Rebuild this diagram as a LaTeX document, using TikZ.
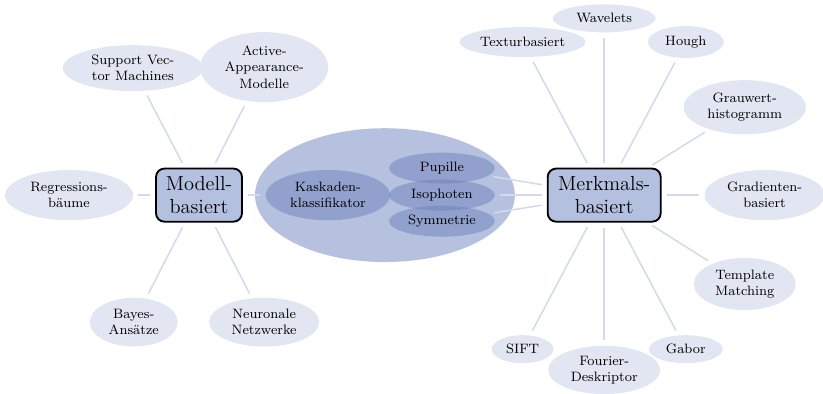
\documentclass[tikz,border=0pt]{standalone}
\usepackage{xcolor}
\usepackage{tikz}
\usetikzlibrary{shapes.geometric, positioning}

\definecolor{leaffill}{HTML}{E2E6F2}
\definecolor{linkcol}{HTML}{D4DAEC}
\definecolor{groupfill}{HTML}{B5C1DF}
\definecolor{subfill}{HTML}{6E81BA}
\definecolor{mainfill}{HTML}{B4C0E0}

\begin{document}
\begin{tikzpicture}[
        main/.style={rectangle, draw=black, line width=1.1pt, fill=mainfill, rounded corners=5pt, align=center, font=\large, inner sep=0pt},
        leaf/.style={ellipse, fill=leaffill, align=center, font=\footnotesize, inner sep=0pt},
        group/.style={ellipse, fill=groupfill, inner sep=0pt},
        sub/.style={ellipse, fill=subfill, fill opacity=0.5, text opacity=1, align=center, font=\footnotesize, inner sep=0pt},
        link/.style={draw=linkcol, line width=0.9pt, shorten <=3pt, shorten >=3pt}
    ]
        \useasboundingbox (-4.12,-4.10) rectangle (12.92,4.04);

        % Nodes
        \node[main, minimum width=1.78cm, minimum height=1.10cm] (modell) at (0,0) {Modell-\\basiert};
        \node[main, minimum width=2.34cm, minimum height=1.10cm] (merkmal) at (8.39,0) {Merkmals-\\basiert};

        \node[group, minimum width=5.38cm, minimum height=2.77cm] (kombi) at (3.85,0) {};
        \node[sub, minimum width=2.57cm, minimum height=1.04cm] (kaskade) at (2.67,0) {Kaskaden-\\klassifikator};
        \node[sub, minimum width=2.19cm, minimum height=0.64cm] (pupille) at (5.03,0.56) {Pupille};
        \node[sub, minimum width=2.19cm, minimum height=0.64cm] (isophoten) at (5.03,0) {Isophoten};
        \node[sub, minimum width=2.19cm, minimum height=0.64cm] (symmetrie) at (5.03,-0.54) {Symmetrie};

        % model based
        \node[leaf, minimum width=2.90cm, minimum height=0.95cm] (svm) at (-1.37,2.63) {Support Vec-\\tor Machines};
        \node[leaf, minimum width=2.65cm, minimum height=1.45cm] (aam) at (1.35,2.65) {Active-\\Appearance-\\Modelle};
        \node[leaf, minimum width=2.65cm, minimum height=1.04cm] (regression) at (-2.69,0) {Regressions-\\bäume};
        \node[leaf, minimum width=1.82cm, minimum height=1.01cm] (bayes) at (-1.35,-2.63) {Bayes-\\Ansätze};
        \node[leaf, minimum width=2.28cm, minimum height=1.01cm] (neuronal) at (1.35,-2.63) {Neuronale\\Netzwerke};

        % feature based
        \node[leaf, minimum width=2.13cm, minimum height=0.58cm] (wavelets) at (8.39,3.66) {Wavelets};
        \node[leaf, minimum width=2.61cm, minimum height=0.62cm] (textur) at (6.70,3.17) {Texturbasiert};
        \node[leaf, minimum width=1.57cm, minimum height=0.66cm] (hough) at (10.08,3.17) {Hough};
        \node[leaf, minimum width=2.53cm, minimum height=1.12cm] (grauwert) at (11.30,1.82) {Grauwert-\\histogramm};
        \node[leaf, minimum width=2.48cm, minimum height=1.04cm] (gradient) at (11.71,0) {Gradienten-\\basiert};
        \node[leaf, minimum width=2.11cm, minimum height=1.08cm] (template) at (11.30,-1.84) {Template\\Matching};
        \node[leaf, minimum width=1.28cm, minimum height=0.58cm] (sift) at (6.70,-3.19) {SIFT};
        \node[leaf, minimum width=2.32cm, minimum height=1.00cm] (fourier) at (8.39,-3.62) {Fourier-\\Deskriptor};
        \node[leaf, minimum width=1.53cm, minimum height=0.58cm] (gabor) at (10.08,-3.19) {Gabor};

        % Links
        \foreach \leafname in {svm, aam, regression, bayes, neuronal, kaskade}
            \draw[link] (modell) -- (\leafname);
        \foreach \leafname in {wavelets, textur, hough, grauwert, gradient, template, sift, fourier, gabor, pupille, isophoten, symmetrie}
            \draw[link] (merkmal) -- (\leafname);
    \end{tikzpicture}
\end{document}
